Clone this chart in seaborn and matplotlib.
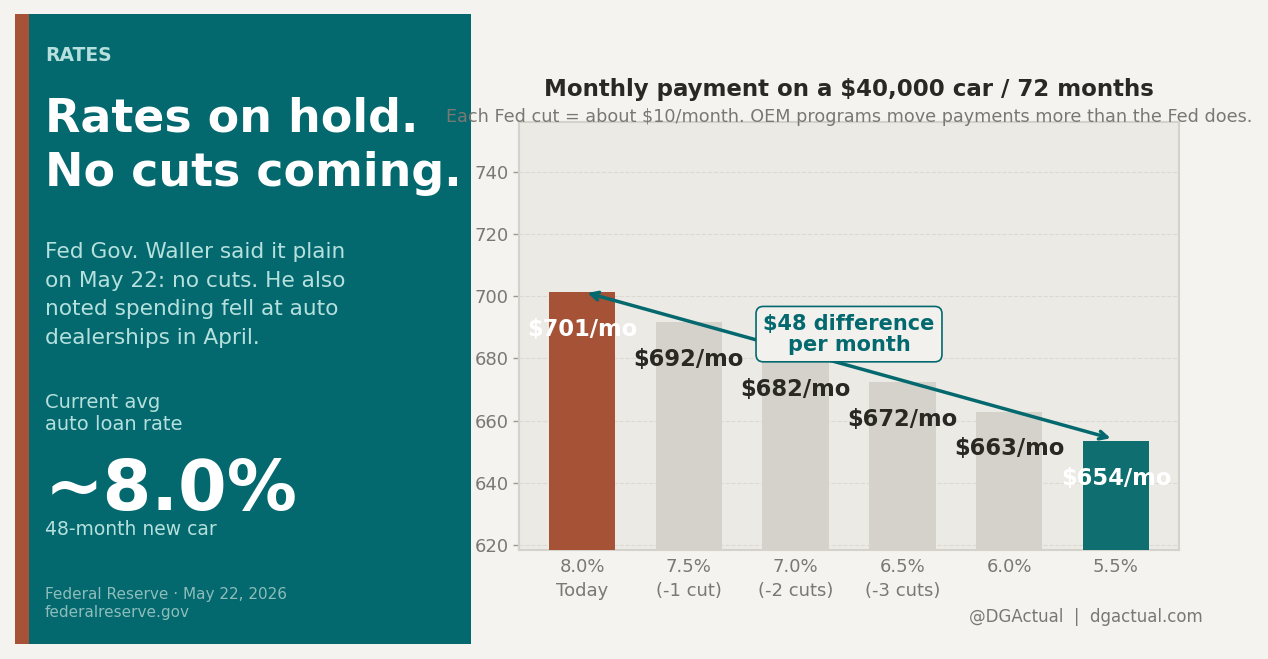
import matplotlib
matplotlib.use("Agg")
import matplotlib.pyplot as plt
import seaborn as sns
import pandas as pd
from matplotlib.patches import Rectangle

# ---- data ----
rates = ["8.0%", "7.5%", "7.0%", "6.5%", "6.0%", "5.5%"]
scenarios = ["Today", "(-1 cut)", "(-2 cuts)", "(-3 cuts)", "", ""]
payments = [701.33, 691.60, 681.96, 672.40, 662.92, 653.52]
pay_labels = ["$701/mo", "$692/mo", "$682/mo", "$672/mo", "$663/mo", "$654/mo"]
yticks = [620, 640, 660, 680, 700, 720, 740]

BG = "#F4F3EF"
AXBG = "#ECEAE5"
TEAL = "#03696E"
TEAL_BAR = "#0E6E70"
RUST = "#A65236"
GRAY_BAR = "#D5D2CB"
DARK = "#2A2822"
MUTED = "#7A7873"
LIGHT_TEAL = "#B5E0DD"

sns.set_theme(style="white")
plt.rcParams["font.family"] = ["DejaVu Sans"]

W, H = 1268, 659
fig = plt.figure(figsize=(W / 100, H / 100), dpi=100, facecolor=BG)

def fx(px):
    return px / W

def fy(py):
    return 1 - py / H

# ---- left panel ----
fig.patches.append(Rectangle((fx(15), fy(644)), fx(471) - fx(15), fy(14) - fy(644),
                             transform=fig.transFigure, facecolor=TEAL, edgecolor="none", zorder=0))
fig.patches.append(Rectangle((fx(15), fy(644)), fx(29) - fx(15), fy(14) - fy(644),
                             transform=fig.transFigure, facecolor=RUST, edgecolor="none", zorder=1))

LX = fx(45)
fig.text(LX, fy(61), "RATES", color=LIGHT_TEAL, fontsize=13.5, fontweight="bold", va="baseline")
fig.text(LX, fy(132), "Rates on hold.", color="white", fontsize=33, fontweight="bold", va="baseline")
fig.text(LX, fy(186), "No cuts coming.", color="white", fontsize=33, fontweight="bold", va="baseline")
body = ["Fed Gov. Waller said it plain", "on May 22: no cuts. He also",
        "noted spending fell at auto", "dealerships in April."]
for i, line in enumerate(body):
    fig.text(LX, fy(258 + i * 28.7), line, color=LIGHT_TEAL, fontsize=15.6, va="baseline")
fig.text(LX, fy(408), "Current avg", color=LIGHT_TEAL, fontsize=14, va="baseline")
fig.text(LX, fy(430), "auto loan rate", color=LIGHT_TEAL, fontsize=14, va="baseline")
fig.text(LX, fy(510), "~8.0%", color="white", fontsize=50.5, fontweight="bold", va="baseline")
fig.text(LX, fy(535), "48-month new car", color=LIGHT_TEAL, fontsize=13.5, va="baseline")
fig.text(LX, fy(599), "Federal Reserve · May 22, 2026", color="#8DBDBB", fontsize=11, va="baseline")
fig.text(LX, fy(617), "federalreserve.gov", color="#8DBDBB", fontsize=11, va="baseline")

# ---- chart ----
ax = fig.add_axes([fx(519), fy(550), fx(1179) - fx(519), fy(122) - fy(550)])
ax.set_facecolor(AXBG)

xlabels = [f"{r}\n{s}" if s else r for r, s in zip(rates, scenarios)]
df = pd.DataFrame({"scenario": xlabels, "payment": payments})
colors = [RUST, GRAY_BAR, GRAY_BAR, GRAY_BAR, GRAY_BAR, TEAL_BAR]
sns.barplot(data=df, x="scenario", y="payment", hue="scenario", palette=colors,
            legend=False, width=0.62, saturation=1, linewidth=0, edgecolor="none",
            ax=ax, zorder=3)

ax.set_ylim(618.4, 756)
ax.set_xlim(-0.59, 5.59)
ax.set_yticks(yticks)
ax.set_yticklabels([str(t) for t in yticks])
ax.set_xlabel("")
ax.set_ylabel("")
ax.tick_params(axis="y", colors=MUTED, labelsize=13, length=4, width=1, left=True)
ax.tick_params(axis="x", colors=MUTED, labelsize=13, length=0, pad=6)
for lab in ax.get_yticklabels() + ax.get_xticklabels():
    lab.set_color(MUTED)
for lab in ax.get_xticklabels():
    lab.set_linespacing(1.4)
ax.tick_params(axis="y", color="#9A9893")
ax.yaxis.grid(True, linestyle="--", color="#DCD9D2", linewidth=0.8, zorder=0)
ax.set_axisbelow(True)
for sp in ax.spines.values():
    sp.set_color("#D5D2CB")
    sp.set_linewidth(1.5)

for i, (v, lab) in enumerate(zip(payments, pay_labels)):
    c = "white" if i in (0, len(payments) - 1) else DARK
    ax.text(i, v - 12, lab, ha="center", va="center", fontsize=16.3,
            fontweight="bold", color=c, zorder=5)

ax.annotate("", xy=(0.05, payments[0] - 0.3), xytext=(4.95, payments[-1] + 0.8),
            arrowprops=dict(arrowstyle="<->", color=TEAL, lw=2.5,
                            shrinkA=0, shrinkB=0, mutation_scale=14), zorder=6)
diff = round(payments[0] - payments[-1])
ax.text(2.5, 687.8, f"${diff} difference\nper month", ha="center", va="center",
        fontsize=15, fontweight="bold", color=TEAL, linespacing=1.05, zorder=7,
        bbox=dict(boxstyle="round,pad=0.35", fc="#F2F1ED", ec=TEAL, lw=1.2))

fig.text(fx(849), fy(96), "Monthly payment on a $40,000 car / 72 months",
         ha="center", va="baseline", fontsize=16.5, fontweight="bold", color=DARK)
fig.text(fx(849), fy(122), "Each Fed cut = about $10/month. OEM programs move payments more than the Fed does.",
         ha="center", va="baseline", fontsize=12.7, color=MUTED)

fig.text(fx(1203), fy(622), "@DGActual  |  dgactual.com", ha="right", va="baseline",
         fontsize=12, color=MUTED)

fig.savefig("out.png", dpi=100, facecolor=BG)
